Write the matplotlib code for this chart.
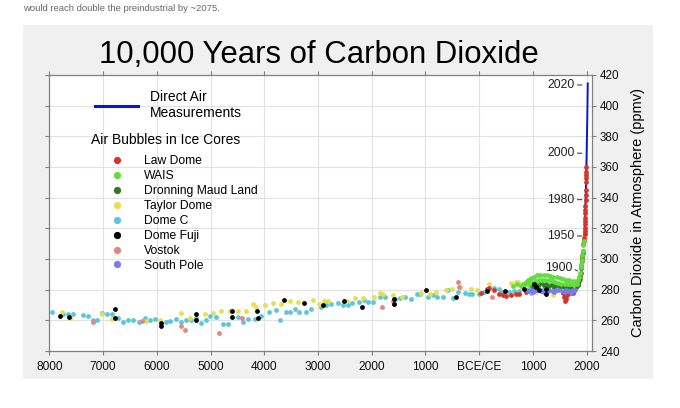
import matplotlib
matplotlib.use("Agg")
import matplotlib.pyplot as plt
from matplotlib.lines import Line2D
from matplotlib.patches import Rectangle

plt.rcParams['font.family'] = ['Liberation Sans', 'DejaVu Sans']

# --- Data (year < 0 means BCE) ---
dome_c_year = [-7957, -7740, -7647, -7567, -7368, -7276, -7183, -7121, -7028, -6935,
               -6842, -6718, -6625, -6533, -6440, -6328, -6223, -6130, -6037, -5820,
               -5746, -5635, -5542, -5449, -5356, -5263, -5170, -5077, -5003, -4892,
               -4768, -4675, -4489, -4396, -4303, -4180, -4056, -3913, -3777, -3715,
               -3604, -3529, -3437, -3344, -3220, -3127, -2941, -2848, -2755, -2632,
               -2528, -2435, -2373, -2230, -2143, -2062, -1969, -1845, -1752, -1565,
               -1472, -1379, -1267, -1162, -1110, -955, -862, -788, -676, -584,
               -491, -398, -273, -193, -131, 5, 98, 284, 377, 426,
               563, 656, 749, 904, 966, 1182, 1306, 1400, 1648, 1771]
dome_c_ppm = [265.6, 264.4, 264.4, 264.4, 263.8, 262.9, 260.4, 260.4, 265.1, 264.0,
              264.0, 261.8, 258.9, 260.0, 260.4, 258.7, 261.8, 260.4, 261.1, 258.9,
              259.3, 261.1, 258.9, 260.0, 260.0, 261.8, 258.2, 260.4, 263.1, 262.2,
              257.3, 257.8, 262.2, 258.9, 261.1, 261.1, 262.7, 265.3, 266.7, 260.0,
              265.3, 265.6, 267.6, 265.3, 265.3, 267.6, 268.9, 270.0, 270.9, 271.6,
              270.0, 269.8, 271.5, 272.0, 273.0, 272.2, 272.2, 275.4, 275.4, 274.1,
              274.8, 275.4, 274.1, 277.0, 277.0, 275.2, 276.5, 275.2, 275.4, 279.6,
              274.4, 278.5, 277.6, 277.0, 277.4, 277.0, 278.5, 280.9, 280.2, 278.5,
              278.5, 279.1, 279.1, 280.6, 278.0, 280.6, 279.1, 281.3, 282.4, 280.2]

taylor_year = [-7771, -7616, -7028, -6842, -6192, -5944, -5542, -5387, -5108, -4954,
               -4799, -4644, -4489, -4334, -4210, -4149, -3994, -3839, -3684, -3529,
               -3375, -3096, -2972, -2879, -2817, -2466, -2311, -2168, -1957, -1845,
               -1783, -1596, -1441, -1079, -911, -812, -614, -502, -366, -149,
               -44, 178, 594, 688, 719, 781, 935, 1059, 1368]
taylor_ppm = [265.6, 261.8, 264.0, 261.1, 259.3, 260.4, 264.9, 261.8, 264.4, 264.9,
              266.2, 266.2, 266.2, 266.0, 270.4, 268.9, 270.0, 271.1, 270.4, 272.7,
              271.8, 273.3, 270.7, 272.7, 272.7, 272.6, 274.8, 274.8, 275.4, 277.6,
              277.0, 276.5, 275.4, 277.6, 277.4, 278.7, 279.8, 280.2, 282.0, 280.2,
              279.8, 283.5, 284.6, 285.0, 285.2, 282.9, 283.5, 278.5, 276.3]

fuji_year = [-7802, -7628, -6780, -6780, -5926, -5926, -5263, -5263, -4594, -4594,
             -4130, -4118, -3635, -3263, -2898, -2516, -2174, -1584, -1584, -999,
             -428, 141, 489, 842, 1015, 1059, 1121, 1245, 1245]
fuji_ppm = [262.7, 262.4, 267.1, 261.8, 258.0, 256.6, 264.2, 260.0, 266.2, 262.0,
            266.0, 261.6, 273.3, 271.1, 270.0, 272.6, 268.9, 273.7, 270.9, 279.8,
            275.2, 279.2, 279.1, 280.2, 283.5, 282.0, 279.8, 280.2, 277.4]

vostok_year = [-7183, -6266, -5542, -5480, -4848, -4409, -1814, -1596, -1584, -398, -379, 234]
vostok_ppm = [258.7, 259.6, 256.4, 254.0, 251.6, 261.8, 268.7, 272.6, 270.4, 285.2, 282.0, 275.2]

wais_year = [620, 700, 780, 810, 850, 873,
             900, 960, 1020, 1080, 1140, 1200, 1260, 1320, 1380, 1440, 1500, 1560,
             1620, 1680, 1740, 1800, 1840,
             930, 990, 1050, 1110, 1170, 1230, 1290, 1350, 1410, 1470, 1530, 1590,
             1650, 1710, 1770, 1820,
             1860, 1875, 1890, 1900, 1910, 1920, 1930, 1940, 1945]
wais_ppm = [282.5, 283.5, 282.5, 284.0, 283.5, 285.0,
            286.5, 287.5, 288.5, 289.5, 289.5, 289.8, 289.5, 289.0, 288.5, 288.0, 287.5,
            287.0, 286.5, 286.0, 285.5, 285.5, 286.5,
            284.0, 285.0, 285.5, 286.0, 286.5, 286.0, 286.0, 285.5, 285.0, 284.5, 284.0,
            284.0, 283.5, 283.5, 283.0, 283.5,
            288.0, 291.0, 294.5, 297.0, 299.5, 302.5, 305.5, 309.0, 311.5]

dml_year = [960, 1000, 1050, 1100, 1150, 1200, 1250, 1300, 1350, 1400, 1450, 1500,
            1550, 1600, 1650, 1700, 1750, 1800, 1830, 1860, 1880, 1900, 1920, 1935]
dml_ppm = [283.0, 282.0, 284.0, 282.5, 284.5, 283.0, 284.0, 282.5, 283.5, 282.0, 283.0,
           281.5, 282.5, 281.5, 281.0, 282.0, 281.0, 282.0, 283.0, 285.5, 289.0, 294.0,
           300.0, 304.0]

south_pole_year = [904, 966, 1000, 1059, 1152, 1200, 1245, 1306, 1368, 1400, 1431, 1492,
                   1554, 1600, 1617, 1678, 1700, 1740, 1790]
south_pole_ppm = [279.0, 280.1, 278.8, 279.5, 279.0, 278.7, 280.1, 279.5, 279.0, 278.4,
                  280.1, 279.5, 279.0, 278.5, 279.9, 279.0, 278.0, 279.5, 280.1]

law_dome_year = [40, 144, 191, 284, 377, 439, 502, 595, 688, 749, 873, 1554, 1580, 1600,
                 1610, 1617, 1650, 1750, 1800, 1840, 1870, 1890, 1900, 1910, 1920, 1930,
                 1940, 1950, 1955, 1960, 1963, 1965, 1968, 1970, 1972, 1974, 1976, 1978,
                 1980, 1983, 1985, 1988, 1990, 1992, 1994, 1996]
law_dome_ppm = [277.6, 280.6, 281.3, 279.8, 277.0, 276.3, 275.9, 276.3, 276.9, 277.4,
                278.5, 278.0, 275.0, 272.6, 274.0, 276.0, 277.0, 278.0, 281.5, 283.5,
                287.0, 291.0, 295.7, 299.0, 302.0, 305.5, 309.5, 311.5, 313.5, 316.5,
                318.5, 320.0, 322.5, 325.0, 327.0, 330.0, 332.0, 334.5, 338.5, 341.5,
                345.0, 350.0, 353.0, 355.0, 357.0, 360.0]

air_year = [1958, 1960, 1965, 1970, 1975, 1980, 1985, 1990, 1995, 2000, 2005, 2010, 2015, 2020]
air_ppm = [315.5, 317.0, 320.0, 325.5, 331.0, 338.5, 346.0, 354.0, 361.0, 369.5,
           379.5, 389.5, 400.5, 414.5]

# year labels next to the steep modern rise
mark_year = [2020, 2000, 1980, 1950]
mark_ppm = [413.5, 369.0, 338.7, 315.0]

x_ticks = [-8000, -7000, -6000, -5000, -4000, -3000, -2000, -1000, 0, 1000, 2000]
x_labels = ['8000', '7000', '6000', '5000', '4000', '3000', '2000', '1000', 'BCE/CE', '1000', '2000']
y_ticks = [240, 260, 280, 300, 320, 340, 360, 380, 400, 420]

# (name, year, ppm, colour) -- drawing order matters, later on top
cores = [
    ('Dome C', dome_c_year, dome_c_ppm, '#5cc6dc'),
    ('Taylor Dome', taylor_year, taylor_ppm, '#e6df4e'),
    ('Vostok', vostok_year, vostok_ppm, '#e88283'),
    ('Law Dome', law_dome_year, law_dome_ppm, '#d8322a'),
    ('Dronning Maud Land', dml_year, dml_ppm, '#2f7a22'),
    ('WAIS', wais_year, wais_ppm, '#62dc3e'),
    ('South Pole', south_pole_year, south_pole_ppm, '#7a7aee'),
    ('Dome Fuji', fuji_year, fuji_ppm, '#000000'),
]
legend_order = ['Law Dome', 'WAIS', 'Dronning Maud Land', 'Taylor Dome',
                'Dome C', 'Dome Fuji', 'Vostok', 'South Pole']

fig = plt.figure(figsize=(6.8, 4.08), dpi=100)
fig.patch.set_facecolor('white')
# grey panel behind the chart
fig.add_artist(Rectangle((0.0338, 0.071), 0.926, 0.868, transform=fig.transFigure,
                         facecolor='#f0f0f0', edgecolor='none', zorder=-5))
fig.text(0.034, 0.978, 'would reach double the preindustrial by ~2075.',
         fontsize=6.8, color='#666666', va='center', ha='left')

ax = fig.add_axes([0.0725, 0.1397, 0.7976, 0.6765])
ax.set_facecolor('white')

ax.plot(air_year, air_ppm, color='#0a14d8', lw=1.4, zorder=2.5)
colours = {}
for name, yrs, vals, col in cores:
    ax.scatter(yrs, vals, s=12, color=col, linewidths=0, zorder=3)
    colours[name] = col

# year annotations on the rise
for yr, val in zip(mark_year, mark_ppm):
    ax.annotate(str(yr), xy=(2000, val), xytext=(-12, 0), textcoords='offset pixels',
                ha='right', va='center', fontsize=8.8, color='#222222',
                arrowprops=dict(arrowstyle='-', color='#444444', lw=0.8,
                                shrinkA=0, shrinkB=3.5, relpos=(1, 0.5)))
ax.annotate('1900', xy=(1900, 291), xytext=(-9, 4.5), textcoords='offset pixels',
            ha='right', va='center', fontsize=8.8, color='#222222',
            arrowprops=dict(arrowstyle='-', color='#444444', lw=0.8,
                            shrinkA=0, shrinkB=3, relpos=(1, 0.5)))

ax.set_xlim(-8000, 2093)
ax.set_ylim(240, 420)
ax.set_xticks(x_ticks)
ax.set_xticklabels(x_labels)
ax.set_yticks(y_ticks)
ax.grid(True, color='#e2e2e2', lw=0.8)
ax.set_axisbelow(True)
for sp in ax.spines.values():
    sp.set_color('#808080')
    sp.set_linewidth(0.9)
ax.tick_params(axis='x', top=True, direction='out', length=3, width=0.8,
               color='#808080', labelsize=8.6, pad=4, labelcolor='#111111')
ax.tick_params(axis='y', left=True, right=True, labelleft=False, labelright=True,
               direction='out', length=3, width=0.8, color='#808080',
               labelsize=8.4, pad=3, labelcolor='#111111')
ax.yaxis.set_label_position('right')
ax.set_ylabel('Carbon Dioxide in Atmosphere (ppmv)', fontsize=10.5, labelpad=8)

fig.text(0.469, 1 - 63 / 408, '10,000 Years of Carbon Dioxide', fontsize=22.4,
         ha='center', va='baseline', color='#000000')

# legends
leg1 = ax.legend([Line2D([], [], color='#0a14d8', lw=2.2)], ['Direct Air\nMeasurements'],
                 loc='upper left', bbox_to_anchor=(0.0843, 0.9457), frameon=False,
                 fontsize=10, handlelength=3.1, handletextpad=0.86, borderpad=0,
                 borderaxespad=0)
ax.add_artist(leg1)
ax.text(0.0769, 0.7645, 'Air Bubbles in Ice Cores', transform=ax.transAxes,
        fontsize=10, ha='left', va='center')
handles = [Line2D([], [], ls='none', marker='o', markersize=5.2, markeredgewidth=0,
                  color=colours[n]) for n in legend_order]
ax.legend(handles, legend_order, loc='upper left', bbox_to_anchor=(0.0769, 0.7102),
          frameon=False, fontsize=8.7, handlelength=4.3, handletextpad=0.05,
          labelspacing=0.245, borderpad=0, borderaxespad=0, numpoints=1)

fig.savefig('out.png', dpi=100)
